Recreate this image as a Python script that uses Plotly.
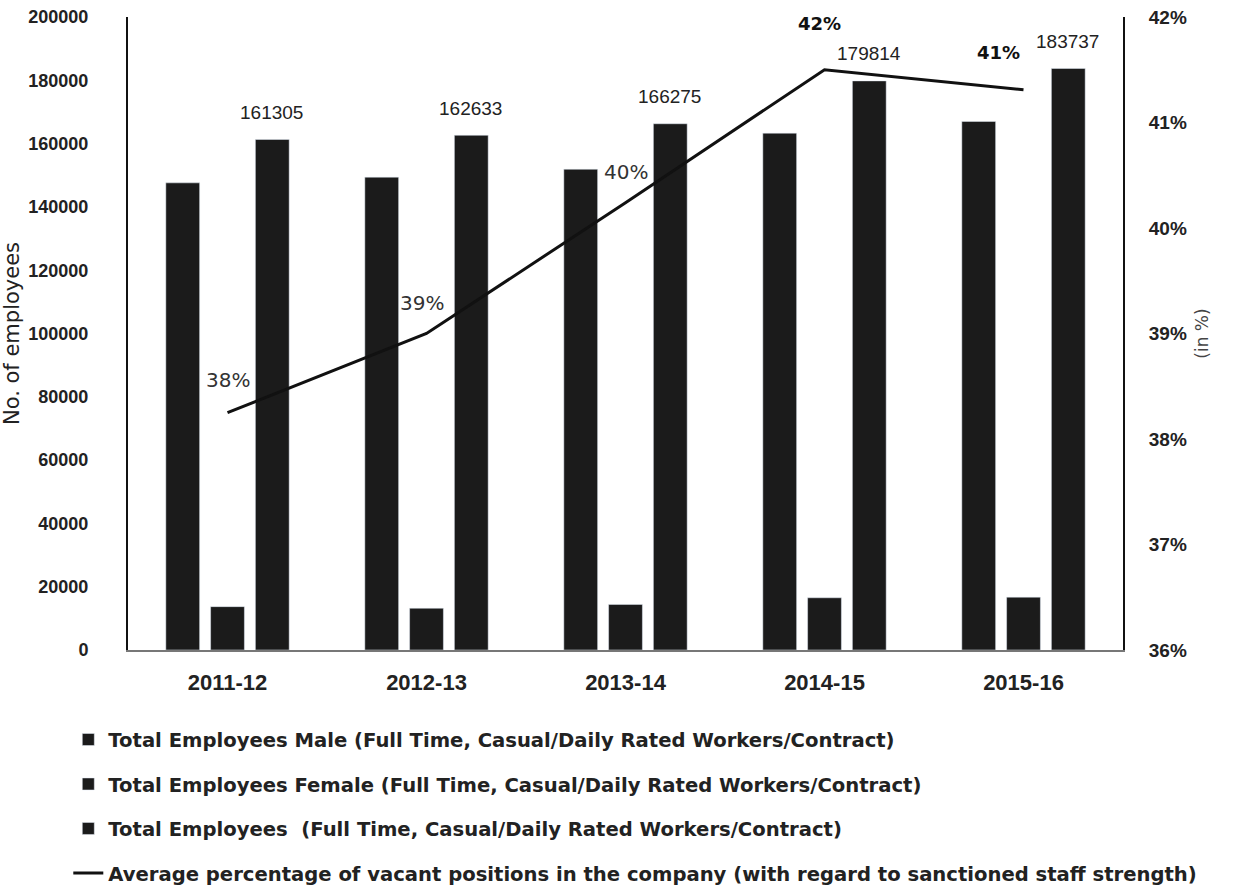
import plotly.graph_objects as go

# Fiscal years on the category axis
years = ["2011-12", "2012-13", "2013-14", "2014-15", "2015-16"]

# Headcount (full time, casual/daily rated workers, contract)
total_employees = [161305, 162633, 166275, 179814, 183737]
female_employees = [13700, 13200, 14400, 16500, 16700]
male_employees = [147600, 149400, 151900, 163300, 167000]

# Average % of vacant positions vs sanctioned staff strength
vacancy_pct = [38.25, 39.0, 40.24, 41.5, 41.31]

left_ticks = list(range(0, 200001, 20000))
right_ticks = [36, 37, 38, 39, 40, 41, 42]
right_tick_text = [f"{t}%" for t in right_ticks]

BAR = "#1b1b1b"
TXT = "#222222"

fig = go.Figure()

fig.add_trace(go.Bar(
    x=years, y=male_employees, marker_color=BAR, legendgroup="m",
    name="Total Employees Male (Full Time, Casual/Daily Rated Workers/Contract)"))
fig.add_trace(go.Bar(
    x=years, y=female_employees, marker_color=BAR, legendgroup="f",
    name="Total Employees Female (Full Time, Casual/Daily Rated Workers/Contract)"))
fig.add_trace(go.Bar(
    x=years, y=total_employees, marker_color=BAR, legendgroup="t",
    name="Total Employees  (Full Time, Casual/Daily Rated Workers/Contract)"))
fig.add_trace(go.Scatter(
    x=years, y=vacancy_pct, yaxis="y2", mode="lines", legendgroup="v",
    line=dict(color="#111111", width=3),
    name="Average percentage of vacant positions in the company (with regard to sanctioned staff strength)"))

# value labels above the "total" bar of each group
for yr, v in zip(years, total_employees):
    fig.add_annotation(x=yr, y=v, xref="x", yref="y", text=str(v),
                       showarrow=False, xshift=44, yshift=27,
                       font=dict(family="Liberation Sans", size=19, color=TXT))

# percentage labels next to the line
pct_offsets = [(0, 33, False), (-5, 31, False), (0, 31, False), (-5, 46, True), (-25, 37, True)]
for yr, v, (dx, dy, bold) in zip(years, vacancy_pct, pct_offsets):
    fig.add_annotation(x=yr, y=v, xref="x", yref="y2", text=f"{v:.0f}%",
                       showarrow=False, xshift=dx, yshift=dy,
                       font=dict(family="DejaVu Sans", size=18 if bold else 20,
                                 color="#111111" if bold else "#333333",
                                 weight="bold" if bold else "normal"))

fig.update_layout(
    width=1234, height=886,
    margin=dict(l=128, r=111, t=17, b=236, autoexpand=False),
    paper_bgcolor="white", plot_bgcolor="white",
    barmode="group", bargap=0.325, bargroupgap=0.245,
    showlegend=True,
    legend=dict(orientation="v", x=-0.06, xanchor="left", y=-0.111, yanchor="top",
                tracegroupgap=16,
                font=dict(family="DejaVu Sans", size=19.6, color=TXT, weight="bold")),
    xaxis=dict(type="category", showline=True, linecolor="#777777", linewidth=2, ticks="",
               showgrid=False, ticklabelstandoff=12, automargin=False,
               tickfont=dict(family="Liberation Sans", size=22, color=TXT, weight="bold")),
    yaxis=dict(range=[0, 200000], tickvals=left_ticks, tickformat="d",
               showgrid=False, zeroline=False, automargin=False,
               showline=True, linecolor="#111111", linewidth=2, ticks="",
               ticklabelstandoff=34,
               tickfont=dict(family="Liberation Sans", size=18, color=TXT, weight="bold"),
               title=dict(text="No. of employees", standoff=8,
                          font=dict(family="DejaVu Sans", size=21, color=TXT))),
    yaxis2=dict(overlaying="y", side="right", range=[36, 42],
                tickvals=right_ticks, ticktext=right_tick_text,
                showgrid=False, zeroline=False, automargin=False,
                showline=True, linecolor="#111111", linewidth=2, ticks="",
                ticklabelstandoff=20,
                tickfont=dict(family="Liberation Sans", size=19, color=TXT, weight="bold"),
                title=dict(text="(in %)", standoff=10,
                           font=dict(family="DejaVu Sans", size=17, color="#444444"))),
)

fig.write_html("out.html")
